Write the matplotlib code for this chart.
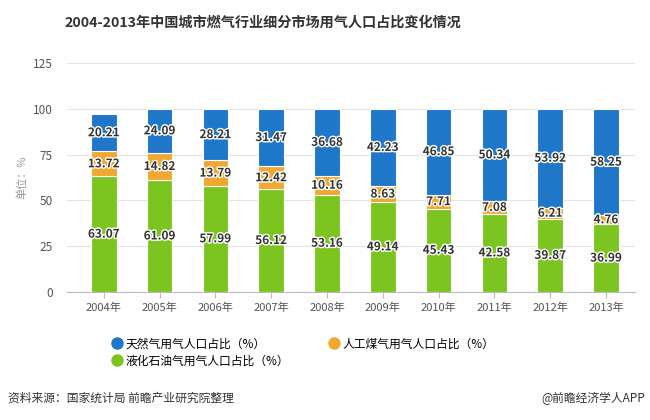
import numpy as np
import matplotlib.pyplot as plt
import matplotlib.patheffects as pe
from matplotlib.lines import Line2D

plt.rcParams['font.family'] = ['Noto Sans CJK SC', 'DejaVu Sans']

years = ['2004年', '2005年', '2006年', '2007年', '2008年',
         '2009年', '2010年', '2011年', '2012年', '2013年']
lpg = [63.07, 61.09, 57.99, 56.12, 53.16, 49.14, 45.43, 42.58, 39.87, 36.99]
coal_gas = [13.72, 14.82, 13.79, 12.42, 10.16, 8.63, 7.71, 7.08, 6.21, 4.76]
natural_gas = [20.21, 24.09, 28.21, 31.47, 36.68, 42.23, 46.85, 50.34, 53.92, 58.25]

names = ['天然气用气人口占比（%）', '人工煤气用气人口占比（%）', '液化石油气用气人口占比（%）']
c_blue = '#1f77c9'
c_orange = '#f0a830'
c_green = '#7cc520'

fig = plt.figure(figsize=(6.5, 4.2), dpi=100)
ax = fig.add_axes([0.103, 0.305, 0.874, 0.545])

x = np.arange(len(years))
w = 0.46
lpg = np.array(lpg)
coal_gas = np.array(coal_gas)
natural_gas = np.array(natural_gas)

ax.bar(x, lpg, w, color=c_green, edgecolor='white', linewidth=0.8, zorder=3)
ax.bar(x, coal_gas, w, bottom=lpg, color=c_orange, edgecolor='white', linewidth=0.8, zorder=3)
ax.bar(x, natural_gas, w, bottom=lpg + coal_gas, color=c_blue, edgecolor='white', linewidth=0.8, zorder=3)

halo = [pe.withStroke(linewidth=2, foreground='white')]
for i in range(len(years)):
    for bot, val in [(0, lpg[i]), (lpg[i], coal_gas[i]), (lpg[i] + coal_gas[i], natural_gas[i])]:
        ax.text(x[i], bot + val / 2, f'{val:.2f}', ha='center', va='center',
                fontsize=8.5, fontweight='bold', color='#333333',
                path_effects=halo, zorder=4)

ax.set_ylim(0, 125)
ax.set_xlim(-0.66, 9.52)
ax.set_yticks([0, 25, 50, 75, 100, 125])
ax.set_xticks(x)
ax.set_xticklabels(years)
ax.grid(axis='y', color='#e3e3e3', linewidth=0.8, zorder=0)
for s in ['top', 'right', 'left']:
    ax.spines[s].set_visible(False)
ax.spines['bottom'].set_color('#bbbbbb')
ax.tick_params(axis='y', length=0, pad=10, labelsize=8.5, labelcolor='#555555')
ax.tick_params(axis='x', length=4, color='#bbbbbb', labelsize=8, labelcolor='#555555')
ax.set_ylabel('单位：%', fontsize=8, color='#999999', labelpad=4)

fig.text(0.405, 0.945, '2004-2013年中国城市燃气行业细分市场用气人口占比变化情况',
         ha='center', va='center', fontsize=10.2, fontweight='bold', color='#333333')

handles = [Line2D([], [], marker='o', linestyle='', markersize=8, color=c) for c in (c_blue, c_green, c_orange)]
fig.legend(handles, [names[0], names[2], names[1]], ncol=2, loc='upper left',
           bbox_to_anchor=(0.155, 0.222), frameon=False, fontsize=8.5,
           handletextpad=0.2, columnspacing=3.3, labelspacing=0.35, handlelength=1.0)

fig.text(0.012, 0.052, '资料来源：国家统计局 前瞻产业研究院整理', ha='left', va='center',
         fontsize=8.5, color='#333333')
fig.text(0.993, 0.052, '@前瞻经济学人APP', ha='right', va='center',
         fontsize=8.5, color='#333333')

fig.savefig('out.png', dpi=100)
